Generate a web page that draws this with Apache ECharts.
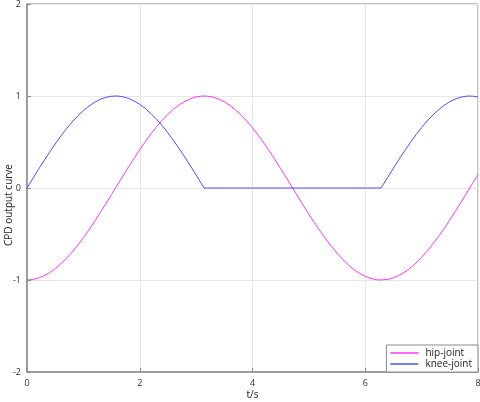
<!DOCTYPE html>
<html>
<head>
<meta charset="utf-8">
<script src="https://cdn.jsdelivr.net/npm/echarts@6/dist/echarts.min.js"></script>
<style>
  html, body { margin: 0; padding: 0; background: #fff; }
  #chart { width: 480px; height: 402px; }
</style>
</head>
<body>
<div id="chart"></div>
<script>
// time samples (s)
var tValues = [0.0, 0.1, 0.2, 0.3, 0.4, 0.5, 0.6, 0.7, 0.8, 0.9,
  1.0, 1.1, 1.2, 1.3, 1.4, 1.5, 1.6, 1.7, 1.8, 1.9,
  2.0, 2.1, 2.2, 2.3, 2.4, 2.5, 2.6, 2.7, 2.8, 2.9,
  3.0, 3.1, 3.14, 3.2, 3.3, 3.4, 3.5, 3.6, 3.7, 3.8, 3.9,
  4.0, 4.1, 4.2, 4.3, 4.4, 4.5, 4.6, 4.7, 4.8, 4.9,
  5.0, 5.1, 5.2, 5.3, 5.4, 5.5, 5.6, 5.7, 5.8, 5.9,
  6.0, 6.1, 6.2, 6.28, 6.3, 6.4, 6.5, 6.6, 6.7, 6.8, 6.9,
  7.0, 7.1, 7.2, 7.3, 7.4, 7.5, 7.6, 7.7, 7.8, 7.9, 8.0];

var hipValues = [-1.000, -0.995, -0.980, -0.955, -0.921, -0.878, -0.825, -0.765, -0.697, -0.622,
  -0.540, -0.454, -0.362, -0.267, -0.170, -0.071, 0.029, 0.129, 0.227, 0.323,
  0.416, 0.505, 0.589, 0.666, 0.737, 0.801, 0.857, 0.904, 0.942, 0.971,
  0.990, 0.999, 1.000, 0.998, 0.988, 0.967, 0.937, 0.897, 0.848, 0.791, 0.726,
  0.654, 0.575, 0.490, 0.401, 0.307, 0.211, 0.112, 0.012, -0.088, -0.187,
  -0.284, -0.378, -0.469, -0.554, -0.635, -0.709, -0.776, -0.835, -0.886, -0.928,
  -0.960, -0.983, -0.997, -1.000, -1.000, -0.993, -0.977, -0.950, -0.914, -0.869, -0.816,
  -0.754, -0.685, -0.608, -0.526, -0.439, -0.347, -0.251, -0.153, -0.054, 0.046, 0.146];

var kneeValues = [0.000, 0.100, 0.199, 0.296, 0.389, 0.479, 0.565, 0.644, 0.717, 0.783,
  0.842, 0.891, 0.932, 0.964, 0.985, 0.998, 1.000, 0.992, 0.974, 0.946,
  0.909, 0.863, 0.809, 0.746, 0.676, 0.599, 0.516, 0.427, 0.335, 0.239,
  0.141, 0.042, 0.000, 0.000, 0.000, 0.000, 0.000, 0.000, 0.000, 0.000, 0.000,
  0.000, 0.000, 0.000, 0.000, 0.000, 0.000, 0.000, 0.000, 0.000, 0.000,
  0.000, 0.000, 0.000, 0.000, 0.000, 0.000, 0.000, 0.000, 0.000, 0.000,
  0.000, 0.000, 0.000, 0.000, 0.017, 0.117, 0.215, 0.312, 0.405, 0.494, 0.578,
  0.657, 0.729, 0.794, 0.850, 0.899, 0.938, 0.968, 0.988, 0.999, 0.999, 0.989];

var xTicks = { min: 0, max: 8, interval: 2 };
var yTicks = { min: -2, max: 2, interval: 1 };

function pairs(ys) {
  return tValues.map(function (t, i) { return [t, ys[i]]; });
}

var chart = echarts.init(document.getElementById('chart'));
var fontFam = '"Open Sans", "DejaVu Sans", sans-serif';

var option = {
  animation: false,
  grid: {
    left: 27, right: 2, top: 4, bottom: 30,
    containLabel: false, outerBoundsMode: 'none',
    show: true, borderColor: '#8a8a8a', borderWidth: 1
  },
  xAxis: {
    type: 'value',
    min: xTicks.min, max: xTicks.max, interval: xTicks.interval,
    name: 't/s', nameLocation: 'middle', nameGap: 18, nameMoveOverlap: false,
    nameTextStyle: { color: '#222', fontSize: 10, fontFamily: fontFam },
    axisLine: { show: true, onZero: false, lineStyle: { color: '#8a8a8a', width: 1.5 } },
    axisTick: { show: true, inside: true, length: 4, lineStyle: { color: '#8a8a8a' } },
    axisLabel: { color: '#333', fontSize: 9, fontFamily: fontFam, margin: 7 },
    splitLine: { show: true, lineStyle: { color: '#e6e6e6', width: 1 } }
  },
  yAxis: {
    type: 'value',
    min: yTicks.min, max: yTicks.max, interval: yTicks.interval,
    name: 'CPD output curve', nameLocation: 'middle', nameGap: 13, nameRotate: 90,
    nameMoveOverlap: false,
    nameTextStyle: { color: '#222', fontSize: 10, fontFamily: fontFam, padding: [0, 34, 0, 0] },
    axisLine: { show: true, onZero: false, lineStyle: { color: '#8a8a8a', width: 1.5 } },
    axisTick: { show: true, inside: true, length: 4, lineStyle: { color: '#8a8a8a' } },
    axisLabel: { color: '#333', fontSize: 9, fontFamily: fontFam, margin: 6 },
    splitLine: { show: true, lineStyle: { color: '#e6e6e6', width: 1 } }
  },
  legend: {
    orient: 'vertical',
    right: 2, bottom: 30,
    backgroundColor: '#fff',
    borderColor: '#8a8a8a', borderWidth: 1, borderRadius: 0,
    padding: [3, 6, 3, 4],
    itemGap: 1,
    itemWidth: 28, itemHeight: 1.5,
    icon: 'rect',
    textStyle: { color: '#222', fontSize: 10, fontFamily: fontFam, padding: [0, 0, 0, 2] },
    data: ['hip-joint', 'knee-joint']
  },
  series: [
    {
      name: 'hip-joint', type: 'line', showSymbol: false, symbol: 'none',
      lineStyle: { color: '#ff33ff', width: 1 }, itemStyle: { color: '#ff33ff' },
      data: pairs(hipValues)
    },
    {
      name: 'knee-joint', type: 'line', showSymbol: false, symbol: 'none',
      lineStyle: { color: '#4d4dff', width: 1 }, itemStyle: { color: '#4d4dff' },
      data: pairs(kneeValues)
    }
  ]
};

chart.setOption(option);
</script>
</body>
</html>
